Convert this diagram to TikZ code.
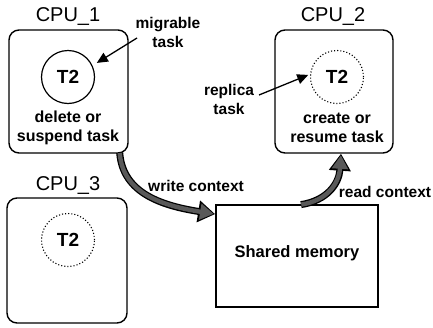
\documentclass[tikz,border=0pt]{standalone}
\usepackage{fontspec}
\setmainfont{Liberation Sans}
\usetikzlibrary{arrows.meta,calc}
\tikzset{
  cpubox/.style={draw, line width=1.4pt, rounded corners=10pt, inner sep=0pt},
  title/.style={font=\fontsize{20}{24}\selectfont, inner sep=0pt},
  lbl/.style={font=\bfseries\fontsize{15.5}{19}\selectfont, align=center, inner sep=0pt},
  inlbl/.style={font=\bfseries\fontsize{16}{19}\selectfont, align=center, inner sep=0pt},
  task/.style={circle, minimum size=53pt, inner sep=0pt, font=\bfseries\fontsize{19}{22}\selectfont},
  solidtask/.style={task, draw, line width=1.2pt},
  dottask/.style={task, draw, line width=1.1pt, dotted},
  pointer/.style={line width=1.3pt, -{Triangle[length=11pt,width=10pt]}},
  bigout/.style={line width=7pt, black, -{Triangle[length=17pt,width=21pt]}},
  bigin/.style={line width=4.4pt, black!65, -{Triangle[length=13.5pt,width=15.5pt]}, shorten >=1.6pt, shorten <=0.3pt},
}
\begin{document}
\begin{tikzpicture}[x=1pt,y=-1pt]
\useasboundingbox (0,0) rectangle (433,327);
% boxes
\node[cpubox, minimum width=119pt, minimum height=123pt] (cpu1) at (68.5,91.5) {};
\node[cpubox, minimum width=118pt, minimum height=123pt] (cpu2) at (334,91.5) {};
\node[cpubox, minimum width=120pt, minimum height=125pt] (cpu3) at (67,260.5) {};
\node[draw, line width=1.8pt, minimum width=162pt, minimum height=102pt, inner sep=0pt] (shm) at (297,256) {};
\node[inlbl, font=\bfseries\fontsize{16.5}{19}\selectfont] (shmt) at (297,253) {Shared memory};
% titles
\node[title] (t1) at (68,17) {CPU\_1};
\node[title] (t2) at (333,17) {CPU\_2};
\node[title] (t3) at (68,185) {CPU\_3};
% tasks
\node[solidtask] (k1) at (68,77) {T2};
\node[dottask] (k2) at (337,77) {T2};
\node[dottask] (k3) at (68,240) {T2};
% inner texts
\node[inlbl] (d1) at (68,127.5) {delete or\\suspend task};
\node[inlbl] (d2) at (337,127.5) {create or\\resume task};
% annotations
\node[lbl] (mig) at (168,32) {migrable\\task};
\node[lbl] (rep) at (229,99) {replica\\task};
\coordinate (migs) at (137,38);
\coordinate (reps) at (259,95);
\draw[pointer, shorten >=5pt] (migs) -- (k1.25);
\draw[pointer, shorten >=2pt] (reps) -- (k2.174);
% transfer labels
\node[lbl] (wc) at (196,186) {write context};
\node[lbl] (rc) at (385,192) {read context};
% thick transfer arrows
\coordinate (ws) at ($(cpu1.south east)+(-9,-1)$);
\coordinate (we) at ($(shm.north west)+(0,10)$);
\coordinate (rs) at ($(shm.north)+(4,0.5)$);
\coordinate (re) at ($(cpu2.south)+(7,0)$);
\foreach \s in {bigout,bigin}{
  \draw[\s] (ws) .. controls ($(ws)+(3,42)$) and ($(we)+(-50,-8)$) .. (we);
  \draw[\s] (rs) .. controls ($(rs)+(26,-4)$) and ($(re)+(-2,30)$) .. (re);
}
\end{tikzpicture}
\end{document}
